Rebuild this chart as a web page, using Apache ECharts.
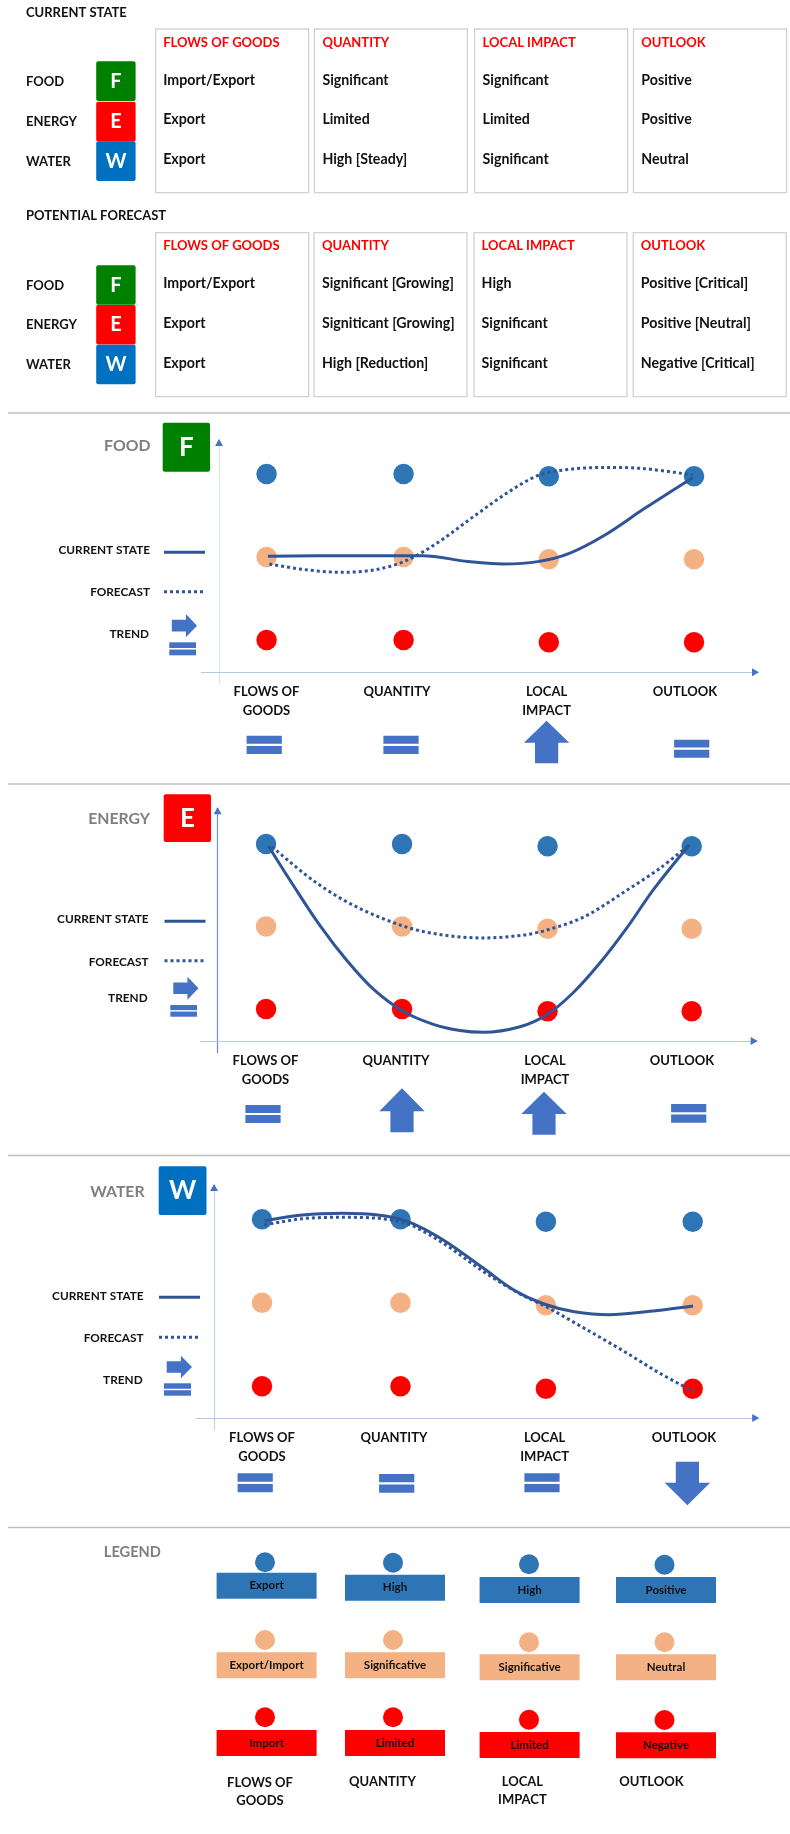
<!DOCTYPE html>
<html>
<head>
<meta charset="utf-8">
<title>Food Energy Water</title>
<script src="https://cdn.jsdelivr.net/npm/echarts@6/dist/echarts.min.js"></script>
<style>
  html, body { margin: 0; padding: 0; background: #fff; }
  #main { width: 790px; height: 1834px; }
</style>
</head>
<body>
<div id="main"></div>
<script>
// table content
const tableHeads = ["FLOWS OF GOODS", "QUANTITY", "LOCAL IMPACT", "OUTLOOK"];
const rowNames = ["FOOD", "ENERGY", "WATER"];
const rowLetters = ["F", "E", "W"];
const currentRows = [
  ["Import/Export", "Significant", "Significant", "Positive"],
  ["Export", "Limited", "Limited", "Positive"],
  ["Export", "High [Steady]", "Significant", "Neutral"]
];
const forecastRows = [
  ["Import/Export", "Significant [Growing]", "High", "Positive [Critical]"],
  ["Export", "Signiticant [Growing]", "Significant", "Positive [Neutral]"],
  ["Export", "High [Reduction]", "Significant", "Negative [Critical]"]
];

// panel x axis: position of the four columns, y axis: 0 low, 1 middle, 2 high
const foodCols = [0, 1, 2.06, 3.12];
const energyCols = [0, 1, 2.07, 3.13];
const waterCols = [0, 1, 2.05, 3.11];
const rowDrop = [0, 0, -0.028, -0.028];

const foodCurrentX = [0.01, 0.63, 1.14, 1.47, 1.73, 1.98, 2.21, 2.47, 2.76, 3.11];
const foodCurrentY = [1.008, 1.016, 1.016, 0.944, 0.916, 0.944, 1.044, 1.265, 1.586, 1.956];
const foodForecastX = [0.02, 0.26, 0.55, 0.81, 1.03, 1.26, 1.51, 1.77, 1.99, 2.21, 2.47, 2.76, 3.11];
const foodForecastY = [0.916, 0.851, 0.815, 0.851, 0.964, 1.185, 1.486, 1.787, 1.988, 2.056, 2.08, 2.064, 1.988];

const energyCurrentX = [0.017, 0.2, 0.397, 0.593, 0.789, 1.01, 1.23, 1.426, 1.598, 1.868, 2.064, 2.26, 2.456, 2.652, 2.85, 3.112];
const energyCurrentY = [1.976, 1.5, 1.01, 0.59, 0.24, -0.03, -0.185, -0.26, -0.282, -0.215, -0.07, 0.2, 0.56, 0.98, 1.45, 1.988];
const energyForecastX = [0.044, 0.341, 0.637, 1, 1.267, 1.6, 1.896, 2.067, 2.341, 2.637, 2.896, 3.111];
const energyForecastY = [1.968, 1.564, 1.261, 1.01, 0.905, 0.861, 0.897, 0.958, 1.119, 1.422, 1.705, 1.988];

const waterCurrentX = [0.018, 0.291, 0.582, 0.836, 1.055, 1.309, 1.6, 1.818, 2.036, 2.255, 2.509, 2.8, 3.113];
const waterCurrentY = [1.984, 2.052, 2.072, 2.052, 1.972, 1.752, 1.413, 1.154, 0.986, 0.894, 0.858, 0.898, 0.962];
const waterForecastX = [0.018, 0.291, 0.582, 0.836, 1.055, 1.309, 1.6, 1.855, 2.073, 2.327, 2.618, 2.873, 3.12];
const waterForecastY = [1.932, 2.008, 2.024, 2.012, 1.944, 1.713, 1.373, 1.114, 0.934, 0.695, 0.415, 0.156, -0.064];

const foodTrend = ["equal", "equal", "up", "equal"];
const energyTrend = ["equal", "up", "up", "equal"];
const waterTrend = ["equal", "equal", "equal", "down"];

const legendRows = [
  ["Export", "High", "High", "Positive"],
  ["Export/Import", "Significative", "Significative", "Neutral"],
  ["Import", "Limited", "Limited", "Negative"]
];

const BLUE = "#2e75b6", PEACH = "#f4b183", RED = "#ff0000", LINE = "#2f5597", ARROW = "#4472c4";
const rowColors = [RED, PEACH, BLUE];
const letterColors = ["#008000", "#ff0000", "#0070c0"];
const FONT = "Lato";

const panels = [
  {
    name: "FOOD", letter: "F", color: letterColors[0], cols: foodCols, trend: foodTrend,
    currentX: foodCurrentX, currentY: foodCurrentY, forecastX: foodForecastX, forecastY: foodForecastY,
    grid: { left: 201.5, top: 440, width: 556.5, height: 243.3 },
    x0: 0.347, y0: 0.39, xMin: -0.128, xMax: 3.934, yMin: -0.133, yMax: 2.8, yColor: "#dbe4f4",
    title: [150.5, 446], badge: [162.7, 422.7, 47.3, 49], legY: [550, 552.3, 592.3, 591.7, 634.3],
    legRight: 150, legLine: 164, trendArrow: [171.8, 614, 25.2, 23.3], trendEq: [169.3, 642.3, 26.7, 13],
    catX: [266.5, 397, 546.6, 685], catY: [692, 711.3],
    trendX: [264.2, 401, 546.6, 691.7], trendBox: [[735.7, 754], [735.7, 754], [720.7, 763.3], [739.7, 757.7]]
  },
  {
    name: "ENERGY", letter: "E", color: letterColors[1], cols: energyCols, trend: energyTrend,
    currentX: energyCurrentX, currentY: energyCurrentY, forecastX: energyForecastX, forecastY: energyForecastY,
    grid: { left: 200.5, top: 808.3, width: 556.2, height: 244.4 },
    x0: 0.356, y0: 0.388, xMin: -0.126, xMax: 3.964, yMin: -0.141, yMax: 2.82, yColor: "#6f90d0",
    title: [150, 819.3], badge: [163.7, 794.3, 47.3, 47.7], legY: [919, 921.3, 962, 960.7, 998],
    legRight: 148.6, legLine: 164.5, trendArrow: [173.3, 976.7, 25.2, 23], trendEq: [170.3, 1005, 26.7, 11.7],
    catX: [265.5, 396, 545, 682], catY: [1060.7, 1080],
    trendX: [263, 402, 544, 688.7], trendBox: [[1105, 1123], [1088.3, 1132.3], [1091.7, 1134.7], [1104, 1122.7]]
  },
  {
    name: "WATER", letter: "W", color: letterColors[2], cols: waterCols, trend: waterTrend,
    currentX: waterCurrentX, currentY: waterCurrentY, forecastX: waterForecastX, forecastY: waterForecastY,
    grid: { left: 196.5, top: 1185, width: 561.7, height: 245 },
    x0: 0.346, y0: 0.379, xMin: -0.127, xMax: 3.929, yMin: -0.144, yMax: 2.79, yColor: "#c3d2ee",
    title: [144.6, 1192], badge: [158.7, 1166.3, 47.8, 48.7], legY: [1295.7, 1297.3, 1338.3, 1337.3, 1380.3],
    legRight: 143.6, legLine: 159, trendArrow: [166.7, 1355.7, 25.3, 22.6], trendEq: [164, 1383.3, 27, 12.4],
    catX: [262, 394, 544.6, 684], catY: [1437.7, 1457],
    trendX: [255.2, 396.7, 542, 687.4], trendBox: [[1473.3, 1492.3], [1474, 1492.7], [1473.3, 1492.3], [1461.7, 1505.3]]
  }
];

function txt(x, y, text, size, color, align, weight) {
  return {
    type: "text", silent: true, z: 20,
    style: {
      x: x, y: y, text: text, fill: color || "#111",
      font: (weight || "bold") + " " + size + "px " + FONT,
      textAlign: align || "left", textVerticalAlign: "middle"
    }
  };
}
function box(x, y, w, h, fill, stroke, r) {
  return {
    type: "rect", silent: true, z: 10,
    shape: { x: x, y: y, width: w, height: h, r: r || 0 },
    style: { fill: fill || "transparent", stroke: stroke || null, lineWidth: stroke ? 1.3 : 0 }
  };
}
function poly(points, fill) {
  return { type: "polygon", silent: true, z: 15, shape: { points: points }, style: { fill: fill } };
}
function seg(x1, y1, x2, y2, color, width, dash) {
  return {
    type: "line", silent: true, z: 15,
    shape: { x1: x1, y1: y1, x2: x2, y2: y2 },
    style: { stroke: color, lineWidth: width, lineDash: dash || null }
  };
}
function equalSign(x, y, w, h) {
  const bar = h * 0.44;
  return [box(x, y, w, bar, ARROW), box(x, y + h - bar, w, bar, ARROW)];
}
function upDown(cx, top, bottom, up) {
  const half = 22.7, shaft = 11.6, neck = (bottom - top) * 0.52;
  if (up) {
    return poly([[cx, top], [cx + half, top + neck], [cx + shaft, top + neck], [cx + shaft, bottom],
      [cx - shaft, bottom], [cx - shaft, top + neck], [cx - half, top + neck]], ARROW);
  }
  return poly([[cx, bottom], [cx + half, bottom - neck], [cx + shaft, bottom - neck], [cx + shaft, top],
    [cx - shaft, top], [cx - shaft, bottom - neck], [cx - half, bottom - neck]], ARROW);
}
function rightArrow(x, y, w, h) {
  const neck = w * 0.56, m = h / 2, s = h * 0.25;
  return poly([[x + w, y + m], [x + neck, y + h], [x + neck, y + m + s], [x, y + m + s],
    [x, y + m - s], [x + neck, y + m - s], [x + neck, y]], ARROW);
}

const graphics = [];

// top tables
function drawTable(title, titleY, boxXs, boxTop, boxH, headY, rowYs, textXs, rows, badgeYs, badgeH, labelYs) {
  graphics.push(txt(26, titleY, title, 13));
  boxXs.forEach(function (bx, i) {
    graphics.push(box(bx, boxTop, 153, boxH, null, "#d2d2d2"));
    graphics.push(txt(textXs[i], headY, tableHeads[i], 13, "#ff0000"));
    rows.forEach(function (row, r) {
      graphics.push(txt(textXs[i], rowYs[r], row[i], 14.2));
    });
  });
  rowNames.forEach(function (nm, r) {
    graphics.push(txt(26, labelYs[r], nm, 13));
    graphics.push(box(96.2, badgeYs[r], 39.4, badgeH, letterColors[r], null, 2));
    graphics.push(txt(115.9, badgeYs[r] + badgeH / 2, rowLetters[r], 20, "#fff", "center"));
  });
}
drawTable("CURRENT STATE", 13.3, [155.7, 314.4, 474.6, 633.5], 29, 163.7, 42.7, [80, 119.7, 159.7],
  [163.2, 322.4, 482.6, 641.3], currentRows, [61.3, 101.7, 141.3], 39.7, [81.7, 122.3, 162.3]);
drawTable("POTENTIAL FORECAST", 215.5, [155.7, 314, 474, 633.2], 232.7, 164, 246.3, [283.7, 323.3, 363.3],
  [163.2, 322, 481.6, 640.8], forecastRows, [265.3, 305, 344.7], 39.5, [286, 325.3, 365.3]);

// separators
[413, 784, 1155.5, 1527.5].forEach(function (y) {
  graphics.push(seg(8, y, 790, y, "#bfbfbf", 1.5));
});

// echarts cartesian pieces, one grid per panel
const grids = [], xAxes = [], yAxes = [], series = [];
panels.forEach(function (p, i) {
  grids.push(p.grid);
  xAxes.push({
    type: "value", gridIndex: i, min: p.xMin, max: p.xMax,
    axisLine: { onZero: true, lineStyle: { color: "#b4c7e7", width: 1.2 } },
    axisTick: { show: false }, axisLabel: { show: false }, splitLine: { show: false }
  });
  yAxes.push({
    type: "value", gridIndex: i, min: p.yMin, max: p.yMax,
    axisLine: { show: true, onZero: true, lineStyle: { color: p.yColor, width: 1.2 } },
    axisTick: { show: false }, axisLabel: { show: false }, splitLine: { show: false }
  });
  rowColors.forEach(function (c, row) {
    series.push({
      name: p.name + " level " + row, type: "scatter", xAxisIndex: i, yAxisIndex: i,
      symbolSize: 20.5, z: 2, silent: true, itemStyle: { color: c, opacity: 1 },
      data: p.cols.map(function (cx, k) { return [cx + p.x0, row + rowDrop[k] + p.y0]; })
    });
  });
  const toData = function (xs, ys) {
    return xs.map(function (x, k) { return [x + p.x0, ys[k] + p.y0]; });
  };
  series.push({
    name: p.name + " forecast", type: "line", xAxisIndex: i, yAxisIndex: i, smooth: 0.33, showSymbol: false,
    z: 3, silent: true, lineStyle: { color: LINE, width: 3, type: [3, 3] },
    data: toData(p.forecastX, p.forecastY)
  });
  series.push({
    name: p.name + " current", type: "line", xAxisIndex: i, yAxisIndex: i, smooth: 0.33, showSymbol: false,
    z: 4, silent: true, lineStyle: { color: LINE, width: 3 },
    data: toData(p.currentX, p.currentY)
  });

  // axis arrow heads
  const originX = p.grid.left + (0 - p.xMin) / (p.xMax - p.xMin) * p.grid.width;
  const originY = p.grid.top + p.grid.height - (0 - p.yMin) / (p.yMax - p.yMin) * p.grid.height;
  const endX = p.grid.left + p.grid.width, topY = p.grid.top;
  graphics.push(poly([[originX, topY - 1], [originX + 4, topY + 6], [originX - 4, topY + 6]], ARROW));
  graphics.push(poly([[endX + 1, originY], [endX - 6, originY - 4], [endX - 6, originY + 4]], ARROW));

  // title, badge, line key
  graphics.push(txt(p.title[0], p.title[1], p.name, 15.8, "#7f7f7f", "right"));
  graphics.push(box(p.badge[0], p.badge[1], p.badge[2], p.badge[3], p.color, null, 2));
  graphics.push(txt(p.badge[0] + p.badge[2] / 2, p.badge[1] + p.badge[3] / 2, p.letter, 26, "#fff", "center"));
  graphics.push(txt(p.legRight, p.legY[0], "CURRENT STATE", 11.8, "#111", "right"));
  graphics.push(seg(p.legLine, p.legY[1], p.legLine + 41, p.legY[1], LINE, 3));
  graphics.push(txt(p.legRight, p.legY[2], "FORECAST", 11.8, "#111", "right"));
  graphics.push(seg(p.legLine, p.legY[3], p.legLine + 41, p.legY[3], LINE, 3, [3, 3]));
  graphics.push(txt(p.legRight - 1, p.legY[4], "TREND", 11.8, "#111", "right"));
  graphics.push(rightArrow.apply(null, p.trendArrow));
  equalSign.apply(null, p.trendEq).forEach(function (g) { graphics.push(g); });

  // column names and trend marks under the axis
  ["FLOWS OF\nGOODS", "QUANTITY", "LOCAL\nIMPACT", "OUTLOOK"].forEach(function (label, k) {
    label.split("\n").forEach(function (part, n) {
      graphics.push(txt(p.catX[k], p.catY[n], part, 13, "#111", "center"));
    });
    const b = p.trendBox[k], cx = p.trendX[k];
    if (p.trend[k] === "equal") {
      equalSign(cx - 17.6, b[0], 35.2, b[1] - b[0]).forEach(function (g) { graphics.push(g); });
    } else {
      graphics.push(upDown(cx, b[0], b[1], p.trend[k] === "up"));
    }
  });
});

// legend block
const legColX = [216.6, 345, 479.6, 616];
const legDotX = [265, 393, 529, 664.5];
const legRectY = [
  [1572.7, 1652.3, 1730],
  [1574.7, 1652.3, 1730],
  [1577, 1654.3, 1732],
  [1577, 1654.3, 1732.3]
];
const legDotY = [
  [1562.3, 1640, 1717.3],
  [1562.7, 1640, 1717.3],
  [1564.3, 1642.3, 1719.7],
  [1564.7, 1642.3, 1720]
];
const legFills = [BLUE, PEACH, RED];
graphics.push(txt(103.8, 1552.3, "LEGEND", 14.6, "#7f7f7f"));
legColX.forEach(function (lx, c) {
  legFills.forEach(function (fill, r) {
    graphics.push({
      type: "circle", silent: true, z: 12,
      shape: { cx: legDotX[c], cy: legDotY[c][r], r: 10 }, style: { fill: fill }
    });
    graphics.push(box(lx, legRectY[c][r], 100, 26, fill));
    graphics.push(txt(lx + 50, legRectY[c][r] + 13, legendRows[r][c], 11.5, "#111", "center"));
  });
});
[["FLOWS OF", 260, 1782.7], ["GOODS", 260, 1801], ["QUANTITY", 382.4, 1782], ["LOCAL", 522.4, 1781.7],
 ["IMPACT", 522.4, 1799.7], ["OUTLOOK", 651.4, 1782]].forEach(function (t) {
  graphics.push(txt(t[1], t[2], t[0], 13, "#111", "center"));
});

const chart = echarts.init(document.getElementById("main"), null, { renderer: "canvas" });
chart.setOption({
  animation: false,
  backgroundColor: "#fff",
  textStyle: { fontFamily: FONT },
  grid: grids,
  xAxis: xAxes,
  yAxis: yAxes,
  series: series,
  graphic: { elements: graphics }
});
</script>
</body>
</html>
